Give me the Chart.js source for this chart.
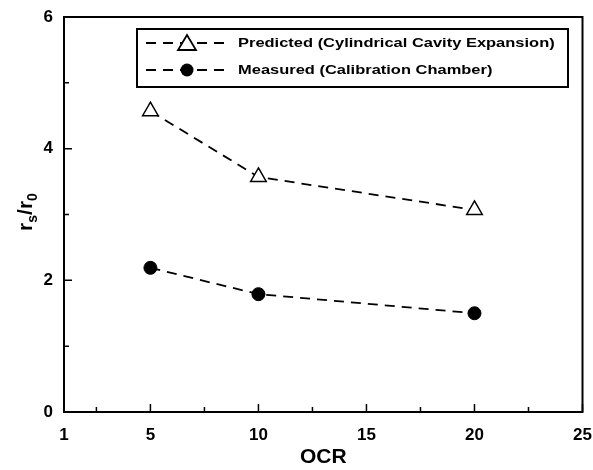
<!DOCTYPE html>
<html>
<head>
<meta charset="utf-8">
<script src="https://cdn.jsdelivr.net/npm/chart.js@4.4.1/dist/chart.umd.min.js"></script>
<style>
  html, body { margin: 0; padding: 0; background: #fff; }
  #wrap { width: 593px; height: 470px; }
</style>
</head>
<body>
<div id="wrap"><canvas id="myChart" width="593" height="470"></canvas></div>
<script>
// 데이터
var ocr = [5, 10, 20];
var predicted = [4.57, 3.57, 3.07];
var measured = [2.19, 1.79, 1.5];
var xTicks = [1, 5, 10, 15, 20, 25];
var xMinor = [2.5, 7.5, 12.5, 17.5, 22.5];
var yTicks = [0, 2, 4, 6];
var yMinor = [1, 3, 5];
var legendLabels = ['Predicted (Cylindrical Cavity Expansion)', 'Measured (Calibration Chamber)'];

var FONT = 'Liberation Sans, Arial, sans-serif';
var DASH = [10, 7];

function toPoints(xs, ys) {
    return xs.map(function (x, i) { return { x: x, y: ys[i] }; });
}

// 프레임, 안쪽 눈금, 범례, y축 제목
var framePlugin = {
    id: 'frame',
    afterDraw: function (chart) {
        var ctx = chart.ctx;
        var a = chart.chartArea;
        var xs = chart.scales.x, ys = chart.scales.y;
        ctx.save();
        ctx.strokeStyle = '#000';
        ctx.lineWidth = 2;
        ctx.strokeRect(a.left, a.top, a.right - a.left, a.bottom - a.top);

        ctx.lineWidth = 1.5;
        ctx.beginPath();
        xTicks.forEach(function (v) {
            var p = xs.getPixelForValue(v);
            ctx.moveTo(p, a.bottom); ctx.lineTo(p, a.bottom - 8);
        });
        xMinor.forEach(function (v) {
            var p = xs.getPixelForValue(v);
            ctx.moveTo(p, a.bottom); ctx.lineTo(p, a.bottom - 5);
        });
        yTicks.forEach(function (v) {
            var p = ys.getPixelForValue(v);
            ctx.moveTo(a.left, p); ctx.lineTo(a.left + 8, p);
        });
        yMinor.forEach(function (v) {
            var p = ys.getPixelForValue(v);
            ctx.moveTo(a.left, p); ctx.lineTo(a.left + 5, p);
        });
        ctx.stroke();

        // 범례
        var bx = 137, by = 29, bw = 431, bh = 58;
        ctx.lineWidth = 2;
        ctx.strokeRect(bx, by, bw, bh);
        var rows = [43, 70];
        ctx.textBaseline = 'middle';
        ctx.fillStyle = '#000';
        rows.forEach(function (ry, i) {
            ctx.lineWidth = 1.8;
            ctx.setLineDash(DASH);
            ctx.beginPath();
            ctx.moveTo(146, ry); ctx.lineTo(228, ry);
            ctx.stroke();
            ctx.setLineDash([]);
            var cx = 187;
            if (i === 0) {
                ctx.fillStyle = '#fff';
                ctx.beginPath();
                ctx.moveTo(cx, ry - 8); ctx.lineTo(cx + 9, ry + 7); ctx.lineTo(cx - 9, ry + 7); ctx.closePath();
                ctx.fill(); ctx.stroke();
                ctx.fillStyle = '#000';
            } else {
                ctx.beginPath();
                ctx.arc(cx, ry, 6.5, 0, Math.PI * 2);
                ctx.fill();
            }
            // 원본 글자가 옆으로 넓어서 가로로 늘림
            ctx.save();
            ctx.font = 'bold 13.5px ' + FONT;
            ctx.translate(238, ry);
            ctx.scale(1.22, 1);
            ctx.fillText(legendLabels[i], 0, 0);
            ctx.restore();
        });

        // y축 제목 r_s/r_0
        ctx.translate(25, 212);
        ctx.rotate(-Math.PI / 2);
        ctx.textBaseline = 'alphabetic';
        var parts = [['r', 21, 0], ['s', 14, 5], ['/r', 21, 0], ['0', 14, 5]];
        var total = 0;
        parts.forEach(function (p) { ctx.font = 'bold ' + p[1] + 'px ' + FONT; total += ctx.measureText(p[0]).width; });
        var x = -total / 2;
        parts.forEach(function (p) {
            ctx.font = 'bold ' + p[1] + 'px ' + FONT;
            ctx.fillText(p[0], x, 7 + p[2]);
            x += ctx.measureText(p[0]).width;
        });
        ctx.restore();
    }
};

var chartArea = document.getElementById('myChart').getContext('2d');
var myChart = new Chart(chartArea, {
    type: 'scatter',
    data: {
        datasets: [{
            label: legendLabels[0],
            data: toPoints(ocr, predicted),
            showLine: true,
            borderColor: '#000',
            borderWidth: 1.8,
            borderDash: DASH,
            pointStyle: 'triangle',
            pointRadius: 9,
            pointBackgroundColor: '#fff',
            pointBorderColor: '#000',
            pointBorderWidth: 1.5
        },
        {
            label: legendLabels[1],
            data: toPoints(ocr, measured),
            showLine: true,
            borderColor: '#000',
            borderWidth: 1.8,
            borderDash: DASH,
            pointStyle: 'circle',
            pointRadius: 6.5,
            pointBackgroundColor: '#000',
            pointBorderColor: '#000',
            pointBorderWidth: 1
        }]
    },
    options: {
        responsive: false,
        animation: false,
        layout: { padding: { top: 17, right: 10, left: 0, bottom: 0 } },
        plugins: {
            legend: { display: false },
            tooltip: { enabled: false }
        },
        scales: {
            x: {
                type: 'linear',
                min: 1,
                max: 25,
                afterBuildTicks: function (s) { s.ticks = xTicks.map(function (v) { return { value: v }; }); },
                afterFit: function (s) { s.height = 58; s.paddingLeft = 0; s.paddingRight = 0; },
                grid: { display: false, drawTicks: false },
                border: { display: false },
                ticks: { color: '#000', padding: 13, maxRotation: 0, font: { family: FONT, size: 17, weight: 'bold' } },
                title: { display: true, text: 'OCR', color: '#000', padding: 0, font: { family: FONT, size: 21, weight: 'bold' } }
            },
            y: {
                min: 0,
                max: 6,
                afterBuildTicks: function (s) { s.ticks = yTicks.map(function (v) { return { value: v }; }); },
                afterFit: function (s) { s.width = 64; s.paddingTop = 0; s.paddingBottom = 0; },
                grid: { display: false, drawTicks: false },
                border: { display: false },
                ticks: { color: '#000', padding: 11, font: { family: FONT, size: 17, weight: 'bold' } }
            }
        }
    },
    plugins: [framePlugin]
});
</script>
</body>
</html>
